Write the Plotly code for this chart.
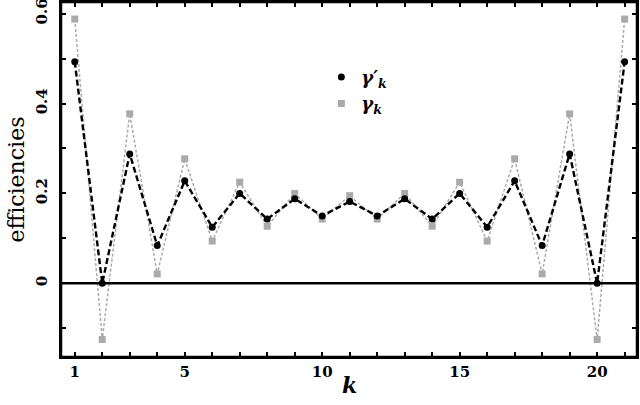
import plotly.graph_objects as go

# efficiency per k
k_values = list(range(1, 22))
gamma_prime = [0.493, 0.0, 0.288, 0.084, 0.228, 0.125, 0.200, 0.143, 0.188, 0.150, 0.182,
               0.150, 0.188, 0.143, 0.200, 0.125, 0.228, 0.084, 0.288, 0.0, 0.493]
gamma = [0.588, -0.125, 0.377, 0.021, 0.277, 0.094, 0.225, 0.127, 0.200, 0.143, 0.195,
         0.143, 0.200, 0.127, 0.225, 0.094, 0.277, 0.021, 0.377, -0.125, 0.588]

x_labelled = [1, 5, 10, 15, 20]
y_ticks = [-0.1, 0, 0.1, 0.2, 0.3, 0.4, 0.5, 0.6]
y_labelled = [0, 0.2, 0.4, 0.6]

SERIF = "DejaVu Serif, Liberation Serif, serif"
GREY = "#aaaaaa"

fig = go.Figure()

fig.add_trace(go.Scatter(
    x=k_values, y=gamma, mode="lines+markers", showlegend=False,
    line=dict(color=GREY, width=1.5, dash="3px,2px"),
    marker=dict(symbol="square", size=7, color=GREY),
))
fig.add_trace(go.Scatter(
    x=k_values, y=gamma_prime, mode="lines+markers", showlegend=False,
    line=dict(color="black", width=2.4, dash="6px,3px"),
    marker=dict(symbol="circle", size=7, color="black"),
))

# legend entries: markers only
fig.add_trace(go.Scatter(x=[None], y=[None], mode="markers", name="<b><i>γ′<sub>k</sub></i></b>",
                         marker=dict(symbol="circle", size=7, color="black")))
fig.add_trace(go.Scatter(x=[None], y=[None], mode="markers", name="<b><i>γ<sub>k</sub></i></b>",
                         marker=dict(symbol="square", size=7, color=GREY)))

# zero line and frame
fig.add_shape(type="line", xref="paper", yref="y", x0=0, x1=1, y0=0, y1=0,
              line=dict(color="black", width=2.5))
fig.add_shape(type="rect", xref="paper", yref="paper", x0=0, x1=1, y0=0, y1=1,
              line=dict(color="black", width=2.5))

# x axis title as annotation so it sits where the reference has it
fig.add_annotation(text="<b><i>k</i></b>", xref="paper", yref="paper", x=0.5, y=-0.08,
                   xanchor="center", yanchor="middle", showarrow=False,
                   font=dict(family=SERIF, size=22, color="black"))

axis_common = dict(
    showline=True, linecolor="black", linewidth=2, mirror="ticks",
    ticks="inside", tickcolor="black", ticklen=5, tickwidth=1.5,
    showgrid=False, zeroline=False, automargin=False,
    tickfont=dict(family=SERIF, size=15, color="black", weight="bold"),
)

fig.update_layout(
    width=640, height=405,
    margin=dict(l=61, r=3, t=2, b=48),
    paper_bgcolor="white", plot_bgcolor="white",
    showlegend=True,
    legend=dict(x=0.452, y=0.84, xanchor="left", yanchor="top",
                traceorder="normal", bgcolor="rgba(0,0,0,0)",
                font=dict(family=SERIF, size=18, color="black"),
                itemwidth=30, tracegroupgap=0),
    xaxis=dict(
        range=[0.5, 21.45],
        tickmode="array", tickvals=k_values,
        ticktext=[str(k) if k in x_labelled else " " for k in k_values],
        **axis_common,
    ),
    yaxis=dict(
        range=[-0.164, 0.626],
        tickmode="array", tickvals=y_ticks,
        ticktext=[f"{v:g}" if v in y_labelled else " " for v in y_ticks],
        tickangle=-90, ticklabelstandoff=6, ticklabeloverflow="allow",
        title=dict(text="efficiencies", font=dict(family=SERIF, size=22, color="black"),
                   standoff=2),
        **axis_common,
    ),
)

fig.write_html("out.html", config={"displayModeBar": False},
               post_script="document.body.style.margin='0';")
